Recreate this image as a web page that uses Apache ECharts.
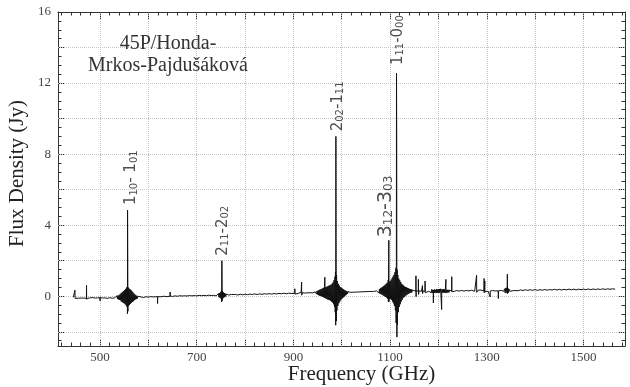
<!DOCTYPE html>
<html>
<head>
<meta charset="utf-8">
<script src="https://cdn.jsdelivr.net/npm/echarts@6/dist/echarts.min.js"></script>
<style>
  html, body { margin: 0; padding: 0; background: #ffffff; }
  #chart { width: 630px; height: 387px; }
</style>
</head>
<body>
<div id="chart"></div>
<script>
// Water spectrum of comet 45P, flux density (Jy) against frequency (GHz).
// Spectrum pieces, [frequency, flux] pairs, low to high frequency.
const lowBand = [
  [444.8,-0.05],[446,-0.06],[447.5,-0.04],[448,0.34],[448.4,-0.12],[452,-0.09],[456,-0.11],
  [460,-0.08],[465,-0.1],[469,-0.08],[471.8,-0.12],[472,0.62],[472.2,-0.16],[473,-0.05],
  [478,-0.09],[482,-0.05],[485,-0.08],[490,-0.1],[495,-0.09],[499.8,-0.08],[500,-0.26],
  [500.2,-0.07],[505,-0.1],[510,-0.09],[515,-0.12],[520,-0.08],[525,-0.11],[530,-0.09],[534,-0.1]
];
const line557 = [
  [535,0.02],[536,-0.15],[537,0.05],[538,-0.18],[539,0.04],[540,-0.2],[541,0.1],[542,-0.22],
  [543,0.15],[544,-0.3],[545,0.2],[546,-0.32],[547,0.25],[548,-0.38],[549,0.3],[550,-0.4],
  [551,0.35],[552,-0.45],[553,0.4],[554,-0.5],[554.5,0.45],[555,-0.55],[555.5,0.5],[556,-0.6],
  [556.5,0.52],[556.7,-0.98],[556.9,4.85],[557.3,2.2],[557.6,-0.85],[558,0.5],[558.5,-0.55],
  [559,0.45],[559.5,-0.5],[560,0.42],[561,-0.48],[562,0.4],[563,-0.42],[564,0.35],[565,-0.38],
  [566,0.28],[567,-0.32],[568,0.22],[569,-0.28],[570,0.15],[571,-0.22],[572,0.1],[573,-0.18],
  [574,0.06],[575,-0.16],[576,0.02],[577,-0.13],[578,0.0],[579,-0.11],[580,-0.06]
];
const midBand1 = [
  [581,-0.06],[585,-0.04],[590,-0.07],[595,-0.03],[600,-0.05],[605,-0.02],[610,-0.04],
  [618.8,-0.02],[619,-0.41],[619.2,-0.02],[625,-0.03],[632,0.0],[638,-0.02],[644.8,0.0],
  [645,0.24],[645.2,0.01],[650,-0.01],[655,0.02],[660,0.0],[665,0.03],[670,0.01],[675,0.03],
  [680,0.01],[685,0.04],[690,0.02],[695,0.04],[700,0.02],[705,0.05],[710,0.03],[715,0.05],
  [720,0.03],[725,0.06],[730,0.04],[735,0.05]
];
const line752 = [
  [738,0.04],[739,0.09],[740,0.02],[741,0.11],[742,0.0],[743,0.13],[744,-0.02],[745,0.15],
  [746,-0.05],[747,0.18],[748,-0.08],[749,0.22],[750,-0.12],[751,0.3],[751.5,-0.32],
  [752,2.0],[752.4,1.1],[752.8,-0.25],[753.5,0.28],[754,-0.12],[755,0.22],[756,-0.08],
  [757,0.18],[758,-0.04],[759,0.15],[760,-0.01],[761,0.12],[762,0.02],[763,0.1],[764,0.04],[766,0.07]
];
const midBand2 = [
  [768,0.07],[772,0.1],[776,0.06],[780,0.1],[785,0.07],[790,0.11],[795,0.08],[800,0.12],
  [805,0.09],[810,0.12],[815,0.1],[820,0.13],[825,0.1],[830,0.13],[835,0.11],[840,0.14],
  [845,0.12],[850,0.15],[855,0.12],[860,0.15],[865,0.13],[870,0.16],[875,0.14],[880,0.17],
  [885,0.14],[890,0.17],[897,0.16],[902.8,0.16],[903,0.42],[903.2,0.12],[906,0.18],[910,0.16],
  [914,0.12],[916,0.22],[916.8,0.2],[917,0.8],[917.2,0.06],[918.5,0.2],[925,0.18],[932,0.2],
  [940,0.19],[944,0.21]
];
const line988 = [
  [945,0.25],[946,0.14],[947,0.28],[948,0.12],[949,0.3],[950,0.1],[951,0.32],[952,0.06],
  [953,0.35],[954,0.04],[955,0.38],[956,0.02],[957,0.4],[958,0.0],[959,0.42],[960,-0.02],
  [961,0.45],[962,-0.05],[963,0.48],[964,-0.08],[965,1.07],[965.5,-0.1],[966,0.5],[967,-0.12],
  [968,0.52],[969,-0.15],[970,0.55],[971,-0.18],[972,0.58],[973,-0.2],[974,0.6],[975,-0.22],
  [976,0.62],[977,-0.25],[978,0.65],[979,-0.3],[980,0.7],[981,-0.35],[982,0.78],[983,-0.45],
  [984,0.9],[985,-0.6],[986,1.1],[986.5,-0.9],[987,1.37],[987.5,-1.63],[987.9,9.0],[988.3,3.3],
  [988.8,-1.4],[989.3,1.2],[990,-0.8],[991,0.85],[992,-0.55],[993,0.7],[994,-0.4],[995,0.6],
  [996,-0.3],[997,0.52],[998,-0.22],[999,0.48],[1000,-0.15],[1001,0.44],[1002,-0.1],[1003,0.4],
  [1004,-0.05],[1005,0.36],[1006,0.0],[1007,0.33],[1008,0.05],[1009,0.3],[1010,0.1],[1011,0.28],
  [1012,0.14],[1013,0.26],[1014,0.18],[1016,0.22]
];
const gapBand = [
  [1018,0.22],[1022,0.26],[1026,0.23],[1030,0.27],[1034,0.24],[1038,0.28],[1042,0.25],
  [1046,0.29],[1050,0.26],[1054,0.3],[1058,0.27],[1062,0.3],[1066,0.27],[1070,0.29]
];
const line1113 = [
  [1072,0.3],[1073,0.24],[1074,0.34],[1075,0.2],[1076,0.36],[1077,0.18],[1078,0.4],[1079,0.15],
  [1080,0.44],[1081,0.12],[1082,0.48],[1083,0.1],[1084,0.52],[1085,0.06],[1086,0.56],[1087,0.03],
  [1088,0.6],[1089,0.0],[1090,0.65],[1091,-0.04],[1092,0.7],[1093,-0.08],[1094,0.75],[1095,-0.15],
  [1096,0.9],[1096.5,-0.32],[1097.4,3.15],[1097.8,-0.3],[1098.5,0.8],[1099,-0.12],[1100,0.85],
  [1101,-0.15],[1102,0.9],[1103,-0.2],[1104,1.0],[1105,-0.3],[1106,1.1],[1107,-0.4],[1108,1.2],
  [1109,-0.55],[1110,1.35],[1111,-0.8],[1112,1.6],[1112.5,-1.5],[1113,1.75],[1113.3,12.56],
  [1113.7,9.0],[1114.1,-2.3],[1114.6,1.5],[1115.2,-1.6],[1116,1.2],[1117,-0.9],[1118,1.0],
  [1119,-0.6],[1120,0.9],[1121,-0.45],[1122,0.8],[1123,-0.3],[1124,0.7],[1125,-0.2],[1126,0.65],
  [1127,-0.1],[1128,0.6],[1129,-0.05],[1130,0.55],[1131,0.0],[1132,0.52],[1133,0.05],[1134,0.5],
  [1135,0.08],[1136,0.47],[1137,0.12],[1138,0.44],[1139,0.15],[1140,0.42],[1141,0.18],[1142,0.4],
  [1143,0.2],[1144,0.38],[1145,0.22],[1146,0.36],[1147,0.25],[1148,0.33]
];
const spurBand = [
  [1150,0.3],[1153.3,0.28],[1153.5,1.15],[1153.8,-0.02],[1154.2,0.3],[1158.4,0.3],[1158.6,0.95],
  [1158.9,0.1],[1160,0.3],[1165,0.28],[1166.8,0.3],[1167,0.6],[1167.3,0.15],[1168,0.3],[1172.2,0.28],
  [1172.4,0.86],[1172.7,0.2],[1175,0.3],[1180,0.28],[1184,0.35],[1185,0.2],[1186,0.38],
  [1187,0.18],[1188,0.36],[1189.4,0.2],[1189.6,-0.38],[1189.8,0.36],[1191,0.2],[1192,0.38],[1193,0.18],
  [1194,0.36],[1195,0.2],[1196,0.4],[1197,0.18],[1198,0.38],[1199,0.2],[1200,0.4],[1201,0.18],
  [1202,0.4],[1203,0.2],[1204,0.42],[1205,0.2],[1206.5,0.25],[1206.7,-0.75],[1206.9,0.4],[1208,0.2],
  [1209,0.38],[1210,0.2],[1211,0.4],[1212,0.2],[1213,0.38],[1214,0.2],[1215.3,0.3],[1215.5,0.95],
  [1215.7,0.18],[1217,0.36],[1218,0.2],[1219,0.36],[1220,0.22],[1221,0.36],[1222,0.22],[1223,0.34],
  [1224,0.24],[1225,0.34],[1226,0.24],[1227.4,0.3],[1227.6,1.1],[1227.8,0.25],[1229,0.32],
  [1233,0.28],[1238,0.32],[1243,0.29],[1248,0.33],[1253,0.29],[1258,0.33],[1263,0.3],[1268,0.34],
  [1272,0.33],[1275,0.28],[1278.8,0.35],[1279,1.18],[1279.2,0.22],[1282,0.34],
  [1285,0.28],[1288,0.35],[1290,0.27],[1292,0.36],[1294.3,0.3],[1294.5,1.0],[1294.8,0.2],
  [1295.8,0.3],[1296,0.85],[1296.3,0.25],[1300,0.33],[1303,0.28],[1306.8,0.3],[1307,-0.04],
  [1307.2,0.3],[1312,0.32],[1318,0.3],[1323.8,0.3],[1324,-0.13],[1324.2,0.3],[1330,0.33],
  [1335,0.28],[1337,0.42],[1338,0.2],[1339,0.45],[1340,0.18],[1341,0.48],[1342.4,0.3],
  [1342.6,1.24],[1342.8,0.15],[1344,0.45],[1345,0.2],[1346,0.4],[1348,0.28],[1352,0.32]
];
const highTail = [
  [1356,0.32],[1360,0.36],[1365,0.31],[1370,0.36],[1375,0.32],[1380,0.37],[1385,0.33],
  [1390,0.37],[1395,0.33],[1400,0.38],[1405,0.33],[1410,0.37],[1415,0.34],[1420,0.38],
  [1425,0.34],[1430,0.38],[1435,0.35],[1440,0.39],[1445,0.35],[1450,0.39],[1455,0.35],
  [1460,0.39],[1465,0.36],[1470,0.4],[1475,0.36],[1480,0.4],[1485,0.36],[1490,0.4],
  [1495,0.37],[1500,0.4],[1505,0.37],[1510,0.41],[1515,0.37],[1520,0.41],[1525,0.38],
  [1530,0.41],[1535,0.38],[1540,0.42],[1545,0.38],[1550,0.42],[1555,0.39],[1560,0.42],[1565.6,0.4]
];

// Identified water transitions: J_KaKc upper - lower, rest frequency and peak flux.
const lineFreqs  = [556.9, 752.0, 987.9, 1097.4, 1113.3];
const linePeaks  = [4.85, 2.0, 9.0, 3.15, 12.56];
const upperJ     = ['1', '2', '2', '3', '1'];
const upperK     = ['10', '11', '02', '12', '11'];
const lowerJ     = ['1', '2', '1', '3', '0'];
const lowerK     = ['01', '02', '11', '03', '00'];
const joiner     = ['- ', '-', '-', '-', '-'];

// Tick values
const xLabelTicks = [500, 700, 900, 1100, 1300, 1500];
const yLabelTicks = [0, 4, 8, 12, 16];

const spectrum = [].concat(lowBand, line557, midBand1, line752, midBand2,
                           line988, gapBand, line1113, spurBand, highTail);

const X_MIN = 413, X_MAX = 1586, Y_MIN = -2.8, Y_MAX = 16;

const xMajor = [], xMinor = [], yMajor = [], yMinor = [];
for (let v = 420; v < X_MAX; v += 20) (v % 100 === 0 ? xMajor : xMinor).push(v);
for (let k = -5; k <= 32; k++) (k % 4 === 0 ? yMajor : yMinor).push(k / 2);
const yGridVals = yMajor.filter(v => v < Y_MAX);

// Label styling per transition (same order as lineFreqs):
// gap above the peak, sideways nudge (px), font sizes
const labelGap   = [5, 5, 5, 3, 8];
const labelNudge = [4, 1.5, 2, -3, 1.5];
const labelSize  = [15, 15, 15, 19, 15];
const subSize    = [10, 10, 10, 12, 10];

const ink = '#222';
const frame = '#333';
const PLOT_W = 567, PLOT_H = 334;
const dotted = { color: '#c4c4c4', type: 'dotted', width: 1 };

function xAxisDef(pos, ticks, len, showLine, withLabels) {
  return {
    type: 'value', position: pos, min: X_MIN, max: X_MAX, splitNumber: 12,
    axisLine: { show: showLine, onZero: false, lineStyle: { color: frame, width: 1 } },
    axisTick: { show: true, inside: true, length: len, customValues: ticks,
                lineStyle: { color: frame, width: 1 } },
    axisLabel: withLabels ? {
      show: true, customValues: xLabelTicks, margin: 5, formatter: v => String(v),
      fontFamily: 'Liberation Serif', fontSize: 13, color: '#444'
    } : { show: false },
    splitLine: { show: false }
  };
}
function yAxisDef(pos, ticks, len, showLine, withLabels) {
  return {
    type: 'value', position: pos, min: Y_MIN, max: Y_MAX, splitNumber: 9,
    axisLine: { show: showLine, onZero: false, lineStyle: { color: frame, width: 1 } },
    axisTick: { show: true, inside: true, length: len, customValues: ticks,
                lineStyle: { color: frame, width: 1 } },
    axisLabel: withLabels ? {
      show: true, customValues: yLabelTicks, margin: 7, formatter: v => String(v),
      fontFamily: 'Liberation Serif', fontSize: 13, color: '#444'
    } : { show: false },
    splitLine: { show: false }
  };
}

// Dotted grid: overlay axes whose inward ticks span the whole plot
const xGridAxis = xAxisDef('bottom', xMajor, PLOT_H, false, false);
xGridAxis.axisTick.lineStyle = dotted;
const yGridAxis = yAxisDef('left', yGridVals, PLOT_W, false, false);
yGridAxis.axisTick.lineStyle = dotted;

const xMain = xAxisDef('bottom', xMajor, 7, true, true);
xMain.name = 'Frequency (GHz)';
xMain.nameLocation = 'middle';
xMain.nameGap = 18;
xMain.nameMoveOverlap = false;
xMain.nameTextStyle = { fontFamily: 'Liberation Serif', fontSize: 21, color: ink,
                        padding: [0, 0, 0, 40], verticalAlign: 'top' };

const yMain = yAxisDef('left', yMajor, 6, true, true);
yMain.name = 'Flux Density (Jy)';
yMain.nameLocation = 'middle';
yMain.nameGap = 30;
yMain.nameMoveOverlap = false;
yMain.nameTextStyle = { fontFamily: 'Liberation Serif', fontSize: 21, color: ink,
                        padding: [0, 0, 0, 11] };

// Rotated labels: offset is in the text's own frame, so [along the text, sideways]
const labelData = lineFreqs.map((f, i) => ({
  value: [f, linePeaks[i]],
  label: {
    distance: labelGap[i],
    offset: [0, labelNudge[i]],
    formatter: '{m' + i + '|' + upperJ[i] + '}{s' + i + '|' + upperK[i] + '}{m' + i + '|' +
               joiner[i] + lowerJ[i] + '}{s' + i + '|' + lowerK[i] + '}'
  }
}));
const rich = {};
labelSize.forEach((sz, i) => {
  rich['m' + i] = { fontFamily: 'DejaVu Sans', fontSize: sz, color: ink, verticalAlign: 'bottom' };
  rich['s' + i] = { fontFamily: 'DejaVu Sans', fontSize: subSize[i], color: ink, verticalAlign: 'bottom' };
});

const chart = echarts.init(document.getElementById('chart'), null, { renderer: 'canvas' });
chart.setOption({
  animation: false,
  backgroundColor: '#ffffff',
  title: {
    text: '45P/Honda-\nMrkos-Pajdušáková',
    left: 163, top: 28, textAlign: 'center',
    textStyle: { fontFamily: 'Liberation Serif', fontSize: 20, fontWeight: 'normal',
                 color: '#333', lineHeight: 22 }
  },
  grid: { left: 58, right: 5, top: 12, bottom: 41, containLabel: false, outerBoundsMode: 'none' },
  xAxis: [
    xMain,
    xAxisDef('bottom', xMinor, 3.5, false, false),
    xAxisDef('top', xMajor, 7, true, false),
    xAxisDef('top', xMinor, 3.5, false, false),
    xGridAxis
  ],
  yAxis: [
    yMain,
    yAxisDef('left', yMinor, 3.5, false, false),
    yAxisDef('right', yMajor, 6, true, false),
    yAxisDef('right', yMinor, 3.5, false, false),
    yGridAxis
  ],
  series: [
    {
      type: 'line', data: spectrum, xAxisIndex: 0, yAxisIndex: 0, z: 3,
      showSymbol: false, symbol: 'none', sampling: null, smooth: false,
      lineStyle: { color: '#111', width: 1 }
    },
    {
      type: 'scatter', data: labelData, xAxisIndex: 0, yAxisIndex: 0,
      symbolSize: 0, silent: true,
      label: {
        show: true, position: 'top', rotate: 90, align: 'left', verticalAlign: 'middle',
        rich: rich
      }
    }
  ]
});
</script>
</body>
</html>
